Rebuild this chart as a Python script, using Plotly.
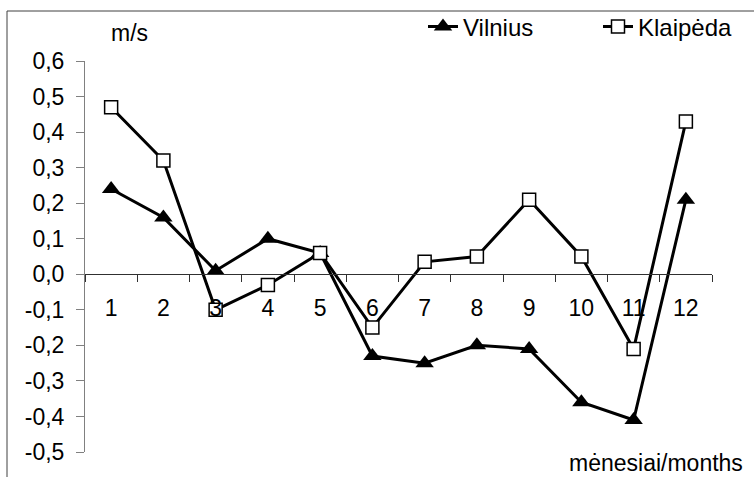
import plotly.graph_objects as go

months = ["1", "2", "3", "4", "5", "6", "7", "8", "9", "10", "11", "12"]
vilnius = [0.24, 0.16, 0.01, 0.10, 0.06, -0.23, -0.25, -0.20, -0.21, -0.36, -0.41, 0.21]
klaipeda = [0.47, 0.32, -0.10, -0.03, 0.06, -0.15, 0.035, 0.05, 0.21, 0.05, -0.21, 0.43]
ytick_vals = [-0.5, -0.4, -0.3, -0.2, -0.1, 0.0, 0.1, 0.2, 0.3, 0.4, 0.5, 0.6]
ytick_text = ["-0,5", "-0,4", "-0,3", "-0,2", "-0,1", "0,0", "0,1", "0,2", "0,3", "0,4", "0,5", "0,6"]

FONT = "Liberation Sans, Arial, sans-serif"
W, H = 754, 477
ML, MR, MT, MB = 85, 42, 61, 25
PW, PH = W - ML - MR, H - MT - MB

def px(x):
    return (x - ML) / PW

def py(y):
    return (H - MB - y) / PH

fig = go.Figure()
fig.add_trace(go.Scatter(
    x=months, y=vilnius, name="Vilnius", mode="lines+markers",
    line=dict(color="black", width=3),
    marker=dict(symbol="triangle-up", size=16, color="black"),
))
fig.add_trace(go.Scatter(
    x=months, y=klaipeda, name="Klaipėda", mode="lines+markers",
    line=dict(color="black", width=3),
    marker=dict(symbol="square", size=13, color="white", line=dict(color="black", width=1.5)),
))

ymin, ymax = -0.5, 0.6
zero_pos = (0 - ymin) / (ymax - ymin)

fig.update_layout(
    width=W, height=H,
    margin=dict(l=ML, r=MR, t=MT, b=MB, autoexpand=False),
    paper_bgcolor="white", plot_bgcolor="white",
    font=dict(family=FONT, size=23, color="black"),
    showlegend=True,
    legend=dict(orientation="h", x=px(423), xanchor="left", y=py(27), yanchor="middle",
                font=dict(size=24), bgcolor="rgba(0,0,0,0)",
                entrywidth=130, entrywidthmode="pixels"),
    xaxis=dict(
        type="category", anchor="free", position=zero_pos,
        showline=True, linecolor="#303030", linewidth=1,
        ticks="outside", ticklen=7, tickcolor="#303030", tickson="boundaries",
        ticklabelstandoff=13, showgrid=False, zeroline=False,
        tickfont=dict(size=23), range=[-0.5, 11.5], automargin=False,
    ),
    yaxis=dict(
        range=[ymin, ymax], tickvals=ytick_vals, ticktext=ytick_text,
        showline=True, linecolor="#808080", linewidth=1,
        ticks="outside", ticklen=8, tickcolor="#808080",
        ticklabelstandoff=7, showgrid=False, zeroline=False,
        tickfont=dict(size=23), automargin=False,
    ),
    shapes=[dict(type="rect", xref="paper", yref="paper",
                 x0=px(7), x1=px(W + 20), y0=py(H + 20), y1=py(11),
                 line=dict(color="#404040", width=1), fillcolor="rgba(0,0,0,0)", layer="below")],
    annotations=[
        dict(text="m/s", xref="paper", yref="paper", x=px(129), y=py(33),
             xanchor="center", yanchor="middle", showarrow=False, font=dict(size=23)),
        dict(text="mėnesiai/months", xref="paper", yref="paper", x=px(745), y=py(463),
             xanchor="right", yanchor="middle", showarrow=False, font=dict(size=23)),
    ],
)

fig.write_html("out.html")
